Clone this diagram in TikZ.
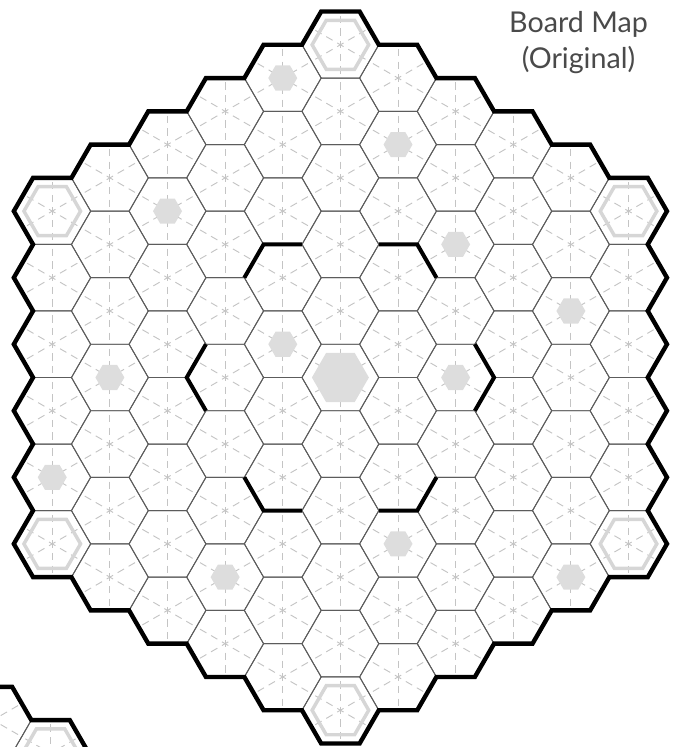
\documentclass[tikz,border=0pt]{standalone}
\usepackage{fontspec}
\newfontfamily\titlefont{Lato}
\definecolor{dashgray}{HTML}{C4C4C4}
\definecolor{hexgray}{HTML}{5C5C5C}
\definecolor{spotgray}{HTML}{DDDDDD}
\definecolor{ringgray}{HTML}{D6D6D6}
\definecolor{titlegray}{HTML}{4A4A4A}
\tikzset{
  dashline/.style={draw=dashgray, line width=0.7pt, dash pattern=on 5.5pt off 4pt, dash phase=6.3pt},
  hexline/.style={draw=hexgray, line width=0.7pt},
  spot/.style={fill=spotgray},
  ringhex/.style={draw=ringgray, line width=2.6pt},
  boldline/.style={draw=black, line width=3.3pt, line join=miter, line cap=butt},
  innerbold/.style={draw=black, line width=3pt, line join=miter, line cap=butt},
  titletext/.style={font=\titlefont\fontsize{21.5pt}{26pt}\selectfont, text=titlegray, inner sep=0pt, anchor=base},
}
\def\HR{38.42}
\def\HA{33.273}
\def\HC{57.63}
\def\HH{66.545}
\def\CX{340.4}
\def\CY{377.5}
\newcommand{\hexat}[3]{({#1+#3},{#2}) -- ({#1+0.5*#3},{#2-0.8660254*#3}) -- ({#1-0.5*#3},{#2-0.8660254*#3}) -- ({#1-#3},{#2}) -- ({#1-0.5*#3},{#2+0.8660254*#3}) -- ({#1+0.5*#3},{#2+0.8660254*#3}) -- cycle}
\newcommand{\hexcenter}[2]{%
  \pgfmathsetmacro\hx{\CX+\HC*(#1)}%
  \pgfmathsetmacro\hy{\CY+\HH*((#2)+0.5*(#1))}}
\newcommand{\boardgrid}{%
  \foreach \qq in {-5,...,5}{%
    \pgfmathtruncatemacro\rmin{max(-5,-5-\qq)}%
    \pgfmathtruncatemacro\rmax{min(5,5-\qq)}%
    \foreach \rr in {\rmin,...,\rmax}{%
      \hexcenter{\qq}{\rr}%
      \draw[dashline] (\hx,{\hy-\HA}) -- (\hx,{\hy+\HA});
      \draw[dashline] ({\hx-0.866025*\HA},{\hy-0.5*\HA}) -- ({\hx+0.866025*\HA},{\hy+0.5*\HA});
      \draw[dashline] ({\hx-0.866025*\HA},{\hy+0.5*\HA}) -- ({\hx+0.866025*\HA},{\hy-0.5*\HA});
    }}%
  \foreach \qq in {-5,...,5}{%
    \pgfmathtruncatemacro\rmin{max(-5,-5-\qq)}%
    \pgfmathtruncatemacro\rmax{min(5,5-\qq)}%
    \foreach \rr in {\rmin,...,\rmax}{%
      \hexcenter{\qq}{\rr}%
      \draw[hexline] \hexat{\hx}{\hy}{\HR};
    }}%
  \foreach \qq/\rr in {0/-5, -5/0, 5/-5, -5/5, 5/0, 0/5}{%
    \hexcenter{\qq}{\rr}%
    \draw[ringhex] \hexat{\hx}{\hy}{28.3};
  }%
}
\begin{document}
\begin{tikzpicture}[x=0.75pt, y=-0.75pt]
\useasboundingbox (0,0) rectangle (672,747);
% outer boundary path
\gdef\outerpath{}
\foreach \sd/\cq/\cr/\sq/\sr in {0/0/-5/1/0, 1/5/-5/0/1, 2/5/0/-1/1, 3/0/5/-1/0, 4/-5/5/0/-1, 5/-5/0/1/-1}{%
  \foreach \ii in {0,...,4}{%
    \pgfmathsetmacro\hq{\cq+\ii*(\sq)}%
    \pgfmathsetmacro\hr{\cr+\ii*(\sr)}%
    \hexcenter{\hq}{\hr}%
    \pgfmathtruncatemacro\va{2-\sd}%
    \ifnum\ii=0
      \pgfmathsetmacro\px{\hx+\HR*cos(-60*(\va+1))}%
      \pgfmathsetmacro\py{\hy+\HR*sin(-60*(\va+1))}%
      \xdef\outerpath{\outerpath(\px,\py) -- }%
    \fi
    \pgfmathsetmacro\px{\hx+\HR*cos(-60*\va)}%
    \pgfmathsetmacro\py{\hy+\HR*sin(-60*\va)}%
    \xdef\outerpath{\outerpath(\px,\py) -- }%
    \pgfmathsetmacro\px{\hx+\HR*cos(-60*(\va-1))}%
    \pgfmathsetmacro\py{\hy+\HR*sin(-60*(\va-1))}%
    \xdef\outerpath{\outerpath(\px,\py) -- }%
  }}
\begin{scope}
\clip (0,0) rectangle (672,747);
% main board
\boardgrid
\foreach \qq/\rr in {-1/-4, -3/-1, 1/-4, 2/-3, 4/-3, -1/0, -4/2, 2/-1, -5/4, 1/2, -2/4, 4/1}{%
  \hexcenter{\qq}{\rr}%
  \fill[spot] \hexat{\hx}{\hy}{14.5};
}
\fill[spot] \hexat{\CX}{\CY}{28.5};
\foreach \qq/\rr/\va in {-1/-1/2, 1/-2/1, 2/-1/0, 1/1/5, -1/2/4, -2/1/3}{%
  \hexcenter{\qq}{\rr}%
  \draw[innerbold] ({\hx+\HR*cos(-60*(\va+1))},{\hy+\HR*sin(-60*(\va+1))}) -- ({\hx+\HR*cos(-60*\va)},{\hy+\HR*sin(-60*\va)}) -- ({\hx+\HR*cos(-60*(\va-1))},{\hy+\HR*sin(-60*(\va-1))});
}
\edef\drawouter{\noexpand\draw[boldline] \outerpath cycle;}
\drawouter
% second board fragment (bottom left)
\begin{scope}[shift={(-578,542.2)}]
\boardgrid
\drawouter
\end{scope}
\end{scope}
\node[titletext] (t1) at (578.5,32.3) {Board Map};
\node[titletext] (t2) at (578.5,68.3) {(Original)};
\end{tikzpicture}
\end{document}
